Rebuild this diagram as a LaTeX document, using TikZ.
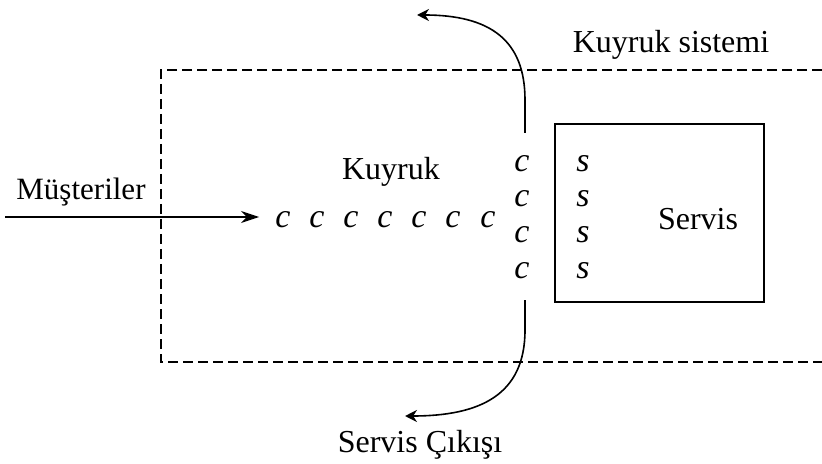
\documentclass[tikz,border=0pt]{standalone}
\usepackage{fontspec}
\setmainfont{Liberation Serif}
\usetikzlibrary{arrows.meta}

\begin{document}
\begin{tikzpicture}[x=0.5pt, y=-0.5pt,
    lbl/.style={font=\fontsize{16}{18}\selectfont, inner sep=0pt},
    cust/.style={font=\fontsize{17}{19}\selectfont\itshape, inner sep=0pt},
    flow/.style={thick, -{Stealth[length=9pt, width=6pt]}},
    outflow/.style={thick, -{Stealth[length=6pt, width=6pt]}}]
  \useasboundingbox (0,0) rectangle (822,464);

  % Dashed system boundary, open on the right
  \draw[thick, dash pattern=on 5pt off 2.5pt]
    (822,70) -- (161,70) -- (161,362) -- (822,362);
  \node[lbl] (sysname) at (671,45) {Kuyruk sistemi};

  % Service box with its servers
  \node[draw, semithick, minimum width=104.5pt, minimum height=89pt, inner sep=0pt]
    (srvbox) at (659.5,213) {};
  \node[lbl] (srvname) at (698,219) {Servis};

  % Waiting line
  \node[lbl] (qname) at (391,172) {Kuyruk};
  \foreach \x [count=\k] in {283,317,351,385,419,453,488}
    \node[cust] (q\k) at (\x,220) {c};
  \foreach \y [count=\k] in {164,199,235,271} {
    \node[cust] (w\k) at (522,\y) {c};
    \node[cust] (s\k) at (583,\y) {s};
  }

  % Arrivals
  \node[font=\fontsize{15.5}{18}\selectfont, inner sep=0pt] (arrname) at (81,192) {Müşteriler};
  \coordinate (arrin) at (5,217);
  \draw[flow, shorten >=8pt] (arrin) -- (q1.west |- arrin);

  % Departures after service
  \coordinate (upstart) at (525,133);
  \coordinate (upend) at (417,15);
  \draw[outflow] (upstart) -- (525,100) .. controls (525,40) and (490,15) .. (upend);

  \coordinate (downstart) at (525,300);
  \coordinate (downend) at (405,416);
  \draw[outflow] (downstart) -- (525,330) .. controls (525,395) and (480,416) .. (downend);
  \node[lbl] (exitname) at (420,445) {Servis Çıkışı};
\end{tikzpicture}
\end{document}
